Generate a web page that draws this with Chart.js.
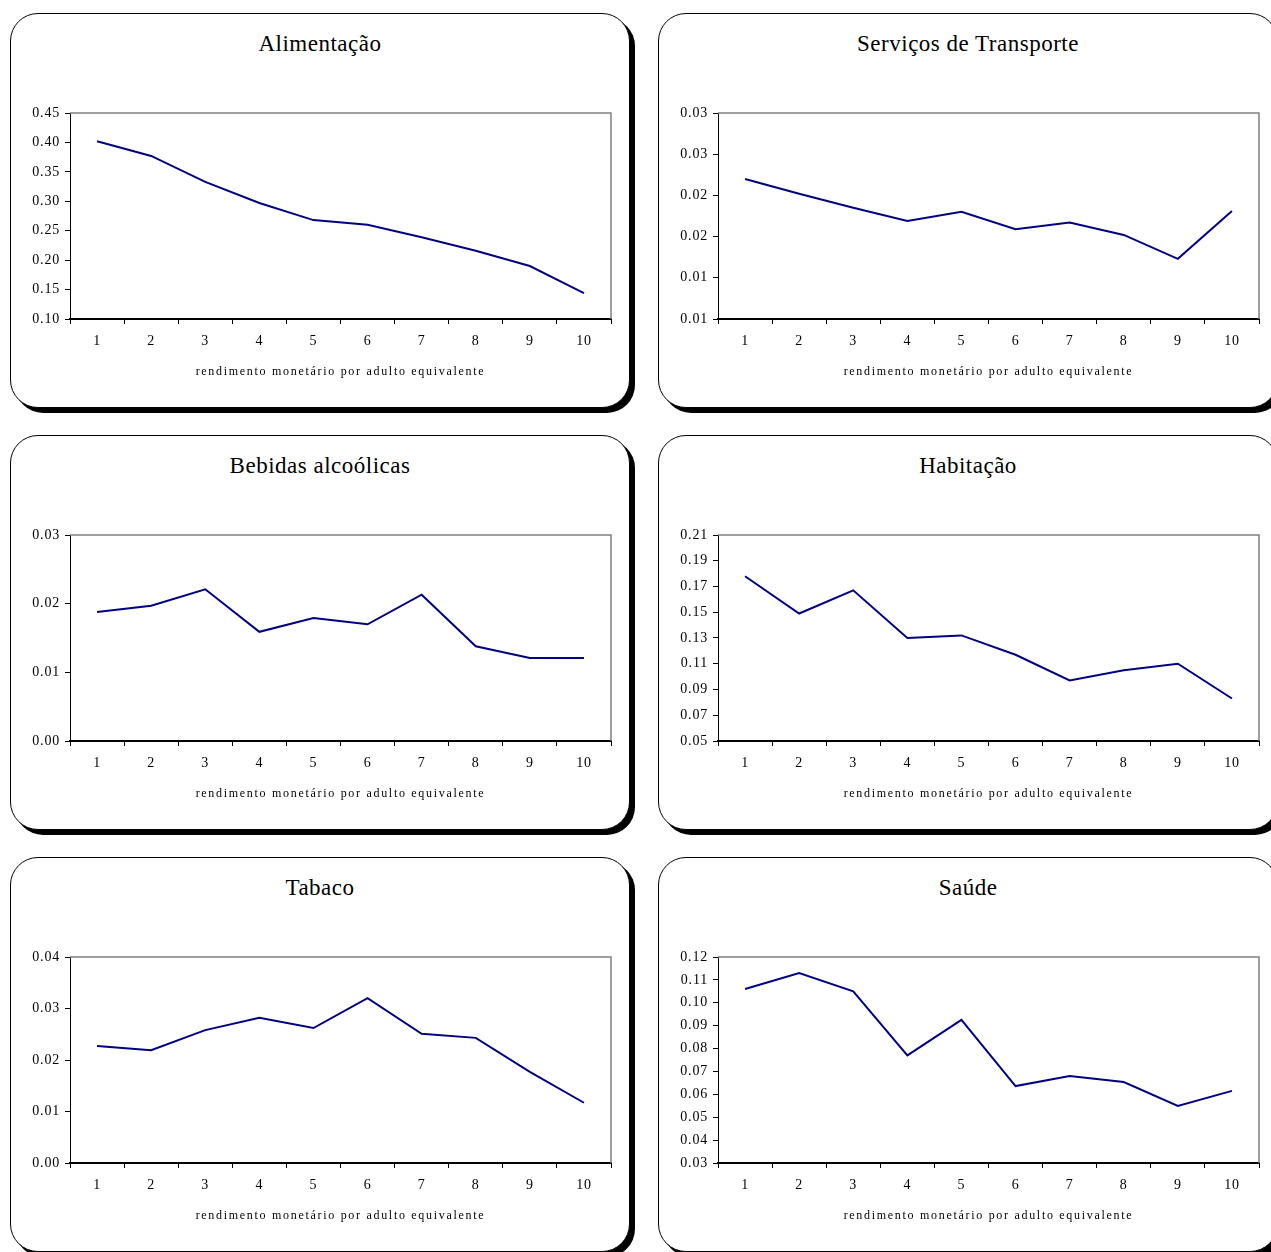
<!DOCTYPE html>
<html lang="pt">
<head>
  <meta charset="UTF-8">
  <title>Despesas por decil de rendimento</title>
  <script src="https://cdn.jsdelivr.net/npm/chart.js"></script>
  <style>
    html, body {
      margin: 0;
      padding: 0;
      background: #fff;
    }
    body {
      width: 1271px;
      height: 1252px;
      overflow: hidden;
      position: relative;
      font-family: "Liberation Serif", "Times New Roman", serif;
      color: #000;
    }
    .panel {
      position: absolute;
      width: 620px;
      height: 395px;
    }
    .box {
      position: absolute;
      left: 0;
      top: 0;
      width: 620px;
      height: 395px;
      box-sizing: border-box;
      border: 1.5px solid #000;
      border-radius: 28px;
      box-shadow: 5px 5px 0 #000;
      background: #fff;
    }
    .panel canvas {
      position: absolute;
      left: 0;
      top: 0;
    }
    .title {
      position: absolute;
      left: 0;
      top: 18px;
      width: 620px;
      text-align: center;
      font-size: 23px;
      letter-spacing: 0.5px;
    }
    .xlabel {
      position: absolute;
      left: 60px;
      top: 351px;
      width: 541px;
      text-align: center;
      font-size: 12px;
      letter-spacing: 1.7px;
    }
  </style>
</head>
<body>
  <div class="panel" style="left:10px; top:13px">
    <div class="box"></div>
    <div class="title">Alimentação</div>
    <canvas id="cAlimentacao" width="620" height="395"></canvas>
    <div class="xlabel">rendimento monetário por adulto equivalente</div>
  </div>
  <div class="panel" style="left:658px; top:13px">
    <div class="box"></div>
    <div class="title">Serviços de Transporte</div>
    <canvas id="cTransporte" width="620" height="395"></canvas>
    <div class="xlabel">rendimento monetário por adulto equivalente</div>
  </div>
  <div class="panel" style="left:10px; top:435px">
    <div class="box"></div>
    <div class="title">Bebidas alcoólicas</div>
    <canvas id="cBebidas" width="620" height="395"></canvas>
    <div class="xlabel">rendimento monetário por adulto equivalente</div>
  </div>
  <div class="panel" style="left:658px; top:435px">
    <div class="box"></div>
    <div class="title">Habitação</div>
    <canvas id="cHabitacao" width="620" height="395"></canvas>
    <div class="xlabel">rendimento monetário por adulto equivalente</div>
  </div>
  <div class="panel" style="left:10px; top:857px">
    <div class="box"></div>
    <div class="title">Tabaco</div>
    <canvas id="cTabaco" width="620" height="395"></canvas>
    <div class="xlabel">rendimento monetário por adulto equivalente</div>
  </div>
  <div class="panel" style="left:658px; top:857px">
    <div class="box"></div>
    <div class="title">Saúde</div>
    <canvas id="cSaude" width="620" height="395"></canvas>
    <div class="xlabel">rendimento monetário por adulto equivalente</div>
  </div>

  <script>
    const deciles = ['1', '2', '3', '4', '5', '6', '7', '8', '9', '10'];

    const alimentacao = [0.402, 0.377, 0.333, 0.297, 0.268, 0.260, 0.239, 0.216, 0.190, 0.144];
    const transporte = [0.0220, 0.0202, 0.0185, 0.0169, 0.0180, 0.0159, 0.0167, 0.0152, 0.0123, 0.0181];
    const bebidas = [0.0188, 0.0197, 0.0221, 0.0159, 0.0179, 0.0170, 0.0213, 0.0138, 0.0121, 0.0121];
    const habitacao = [0.178, 0.149, 0.167, 0.130, 0.132, 0.117, 0.097, 0.105, 0.110, 0.083];
    const tabaco = [0.0227, 0.0219, 0.0258, 0.0282, 0.0262, 0.0320, 0.0251, 0.0243, 0.0177, 0.0117];
    const saude = [0.106, 0.113, 0.105, 0.077, 0.0925, 0.0636, 0.068, 0.0654, 0.0549, 0.0615];

    // y tick values (labels are shown rounded to 2 decimals, as in the original)
    const ticksAlimentacao = [0.10, 0.15, 0.20, 0.25, 0.30, 0.35, 0.40, 0.45];
    const ticksTransporte = [0.005, 0.010, 0.015, 0.020, 0.025, 0.030];
    const ticksBebidas = [0.00, 0.01, 0.02, 0.03];
    const ticksHabitacao = [0.05, 0.07, 0.09, 0.11, 0.13, 0.15, 0.17, 0.19, 0.21];
    const ticksTabaco = [0.00, 0.01, 0.02, 0.03, 0.04];
    const ticksSaude = [0.03, 0.04, 0.05, 0.06, 0.07, 0.08, 0.09, 0.10, 0.11, 0.12];

    const tickFont = { family: 'Liberation Serif', size: 14 };

    // grey top/right frame of the plot area + spaced tick text
    const frame = {
      id: 'frame',
      beforeDraw(chart) {
        chart.ctx.letterSpacing = '0.8px';
      },
      afterDraw(chart) {
        const ctx = chart.ctx;
        const a = chart.chartArea;
        ctx.save();
        ctx.strokeStyle = '#808080';
        ctx.lineWidth = 1.5;
        ctx.beginPath();
        ctx.moveTo(a.left, a.top);
        ctx.lineTo(a.right, a.top);
        ctx.lineTo(a.right, a.bottom);
        ctx.stroke();
        ctx.restore();
        ctx.letterSpacing = '0px';
      }
    };

    function makeChart(id, values, ticks) {
      return new Chart(document.getElementById(id), {
        type: 'line',
        data: {
          labels: deciles,
          datasets: [{
            data: values,
            borderColor: '#000080',
            borderWidth: 2,
            pointRadius: 0,
            tension: 0,
            fill: false
          }]
        },
        options: {
          responsive: false,
          animation: false,
          layout: { padding: { top: 100, right: 19, bottom: 59, left: 0 } },
          plugins: {
            legend: { display: false },
            title: { display: false },
            tooltip: { enabled: false }
          },
          scales: {
            x: {
              type: 'category',
              offset: true,
              grid: {
                offset: true,
                drawOnChartArea: false,
                drawTicks: true,
                tickLength: 5,
                color: '#000'
              },
              border: { display: true, color: '#000', width: 2 },
              ticks: {
                font: tickFont,
                color: '#000',
                padding: 9,
                maxRotation: 0,
                autoSkip: false
              },
              afterFit(s) { s.height = 30; }
            },
            y: {
              min: ticks[0],
              max: ticks[ticks.length - 1],
              afterBuildTicks(s) {
                s.ticks = ticks.map(v => ({ value: v }));
              },
              grid: {
                drawOnChartArea: false,
                drawTicks: true,
                tickLength: 5,
                color: '#000'
              },
              border: { display: true, color: '#000', width: 1 },
              ticks: {
                font: tickFont,
                color: '#000',
                padding: 5,
                callback: v => (Math.round(v * 100 + 1e-6) / 100).toFixed(2)
              },
              afterFit(s) { s.width = 60; }
            }
          }
        },
        plugins: [frame]
      });
    }

    makeChart('cAlimentacao', alimentacao, ticksAlimentacao);
    makeChart('cTransporte', transporte, ticksTransporte);
    makeChart('cBebidas', bebidas, ticksBebidas);
    makeChart('cHabitacao', habitacao, ticksHabitacao);
    makeChart('cTabaco', tabaco, ticksTabaco);
    makeChart('cSaude', saude, ticksSaude);
  </script>
</body>
</html>
